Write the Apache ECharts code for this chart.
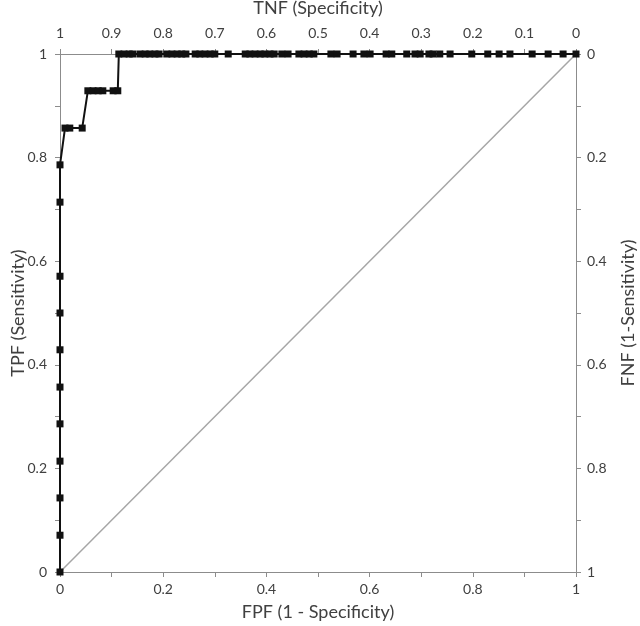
<!DOCTYPE html>
<html>
<head>
<meta charset="utf-8">
<script src="https://cdn.jsdelivr.net/npm/echarts@6/dist/echarts.min.js"></script>
<style>
  html, body { margin: 0; padding: 0; background: #fff; }
  #chart { width: 640px; height: 626px; }
</style>
</head>
<body>
<div id="chart"></div>
<script>
// ROC 曲线的点 (FPF, TPF)
const fpf = [
  0, 0, 0, 0, 0, 0, 0, 0, 0, 0, 0,
  0.0097, 0.019, 0.043,
  0.054, 0.064, 0.074, 0.083, 0.103, 0.112,
  0.114, 0.124, 0.134, 0.141,
  0.155, 0.165, 0.174, 0.184, 0.192,
  0.207, 0.217, 0.227, 0.236, 0.244,
  0.262, 0.271, 0.281, 0.291, 0.300,
  0.326,
  0.359, 0.368, 0.378, 0.388, 0.397, 0.407, 0.415,
  0.430, 0.442,
  0.463, 0.473, 0.483, 0.492,
  0.525, 0.537,
  0.568,
  0.589, 0.601,
  0.632, 0.643,
  0.672,
  0.688, 0.698,
  0.715, 0.723, 0.736, 0.756,
  0.798,
  0.829, 0.851, 0.872,
  0.915, 0.946, 0.975, 1
]
const tpf = [
  0, 0.071, 0.143, 0.214, 0.286, 0.357, 0.429, 0.5, 0.571, 0.714, 0.786,
  0.857, 0.857, 0.857,
  0.929, 0.929, 0.929, 0.929, 0.929, 0.929,
  1, 1, 1, 1,
  1, 1, 1, 1, 1,
  1, 1, 1, 1, 1,
  1, 1, 1, 1, 1,
  1,
  1, 1, 1, 1, 1, 1, 1,
  1, 1,
  1, 1, 1, 1,
  1, 1,
  1,
  1, 1,
  1, 1,
  1,
  1, 1,
  1, 1, 1, 1,
  1,
  1, 1, 1,
  1, 1, 1, 1
]
// 对角参考线
const diagX = [0, 1]
const diagY = [0, 1]

const rocData = fpf.map((x, i) => [x, tpf[i]])
const diagData = diagX.map((x, i) => [x, diagY[i]])

const axisGray = '#8c8c8c'
const textColor = '#404040'
const font = 'Lato, "Open Sans", sans-serif'

const axisBase = {
  type: 'value',
  min: 0,
  max: 1,
  splitLine: { show: false },
  axisLine: { show: true, lineStyle: { color: axisGray, width: 1 } },
  axisTick: { show: true, length: 5, lineStyle: { color: axisGray } },
  axisLabel: { color: textColor, fontSize: 14, fontFamily: font },
  nameLocation: 'middle',
  nameMoveOverlap: false,
  nameTextStyle: { color: textColor, fontSize: 18, fontFamily: font }
}

const chart = echarts.init(document.getElementById('chart'))
chart.setOption({
  animation: false,
  grid: { left: 60, right: 64, top: 54, bottom: 54, containLabel: false, outerBoundsMode: 'none' },
  xAxis: [
    {
      ...axisBase,
      position: 'bottom',
      interval: 0.2,
      minorTick: { show: true, splitNumber: 2, length: 5, lineStyle: { color: axisGray } },
      axisLabel: { ...axisBase.axisLabel, margin: 10 },
      name: 'FPF (1 - Specificity)',
      nameGap: 31
    },
    {
      ...axisBase,
      position: 'top',
      inverse: true,
      interval: 0.1,
      axisLabel: { ...axisBase.axisLabel, margin: 14 },
      name: 'TNF (Specificity)',
      nameGap: 37
    }
  ],
  yAxis: [
    {
      ...axisBase,
      position: 'left',
      interval: 0.2,
      minorTick: { show: true, splitNumber: 2, length: 5, lineStyle: { color: axisGray } },
      axisLabel: { ...axisBase.axisLabel, margin: 13 },
      name: 'TPF (Sensitivity)',
      nameRotate: 90,
      nameGap: 33
    },
    {
      ...axisBase,
      position: 'right',
      inverse: true,
      interval: 0.2,
      minorTick: { show: true, splitNumber: 2, length: 5, lineStyle: { color: axisGray } },
      axisLabel: { ...axisBase.axisLabel, margin: 11 },
      name: 'FNF (1-Sensitivity)',
      nameRotate: 90,
      nameGap: 43
    }
  ],
  series: [
    {
      name: 'diag',
      type: 'line',
      data: diagData,
      showSymbol: false,
      symbol: 'none',
      lineStyle: { color: '#a6a6a6', width: 1.5 },
      z: 1
    },
    {
      name: 'ROC',
      type: 'line',
      data: rocData,
      symbol: 'rect',
      symbolSize: 7,
      itemStyle: { color: '#111' },
      lineStyle: { color: '#111', width: 2 },
      z: 3
    }
  ]
})
</script>
</body>
</html>
